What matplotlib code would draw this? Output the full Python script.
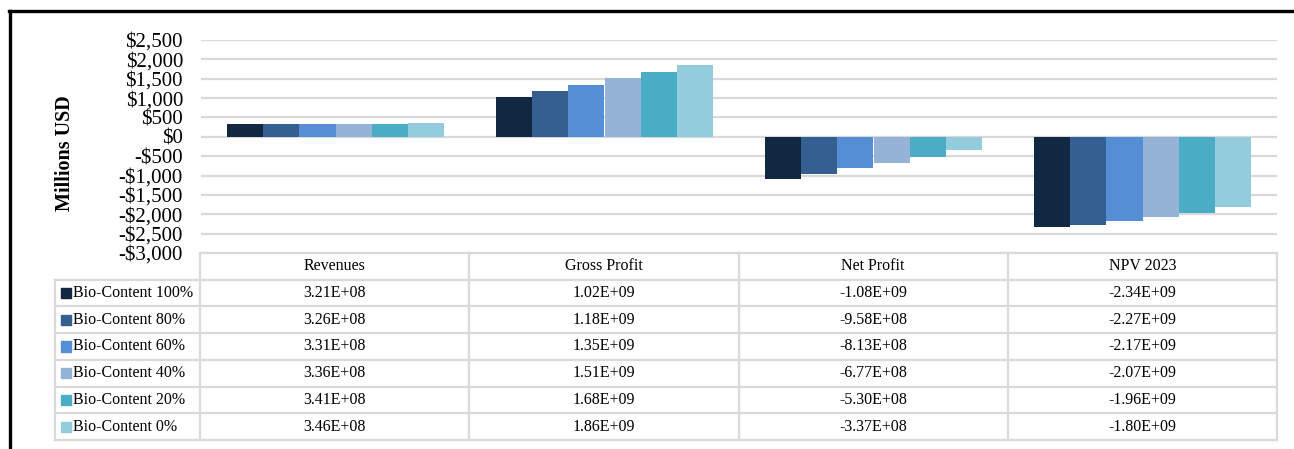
import matplotlib.pyplot as plt
from matplotlib.lines import Line2D
from matplotlib.patches import Rectangle

plt.rcParams['font.family'] = ['Liberation Serif', 'DejaVu Serif']

categories = ["Revenues", "Gross Profit", "Net Profit", "NPV 2023"]
series = ["Bio-Content 100%", "Bio-Content 80%", "Bio-Content 60%",
          "Bio-Content 40%", "Bio-Content 20%", "Bio-Content 0%"]

# values in USD, one list per series (Revenues, Gross Profit, Net Profit, NPV 2023)
values = [
    [3.21e8, 1.02e9, -1.08e9, -2.34e9],
    [3.26e8, 1.18e9, -9.58e8, -2.27e9],
    [3.31e8, 1.35e9, -8.13e8, -2.17e9],
    [3.36e8, 1.51e9, -6.77e8, -2.07e9],
    [3.41e8, 1.68e9, -5.30e8, -1.96e9],
    [3.46e8, 1.86e9, -3.37e8, -1.80e9],
]
colors = ["#122842", "#355f91", "#558ed5", "#95b3d7", "#4bacc6", "#93cddd"]

W, H = 1294, 449
fig = plt.figure(figsize=(W / 100, H / 100), dpi=100)


def px_axes(x0, y0, x1, y1):
    # axes from pixel box (top-left origin)
    return fig.add_axes([x0 / W, 1 - y1 / H, (x1 - x0) / W, (y1 - y0) / H])


grid_col = "#d9d9d9"

# --- bar chart ---
ax = px_axes(201, 40, 1277, 253)
bar_w = 0.134
for i, (name, vals) in enumerate(zip(series, values)):
    xs = [c + 0.5 + (i - 2.5) * bar_w for c in range(len(categories))]
    ax.bar(xs, [v / 1e6 for v in vals], width=bar_w, color=colors[i], zorder=3)

ax.set_xlim(0, len(categories))
ax.set_ylim(-3000, 2500)
ticks = range(-3000, 2501, 500)
ax.set_yticks(ticks)
ax.set_yticklabels([("-$" if t < 0 else "$") + f"{abs(t):,}" for t in ticks], fontsize=15)
ax.tick_params(axis='y', length=0, pad=13)
ax.set_xticks([])
for t in range(-2500, 2501, 500):
    ax.axhline(t, color=grid_col, lw=1.6, zorder=1)
for s in ax.spines.values():
    s.set_visible(False)
ax.set_ylabel("Millions USD", fontsize=14.5, fontweight='bold')
ax.yaxis.set_label_coords(-0.117, 0.47)

# --- data table below ---
lab_w = 145 / 269
tx = px_axes(55, 253, 1277, 440)
tx.set_xlim(-lab_w, len(categories))
tx.set_ylim(len(series) + 1, 0)
tx.axis('off')

lw = 1.6
n = len(series)
# horizontal lines
tx.plot([0, len(categories)], [0, 0], color=grid_col, lw=lw, clip_on=False)
for r in range(1, n + 2):
    tx.plot([-lab_w, len(categories)], [r, r], color=grid_col, lw=lw, clip_on=False)
# vertical lines
tx.plot([-lab_w, -lab_w], [1, n + 1], color=grid_col, lw=lw, clip_on=False)
for c in range(len(categories) + 1):
    tx.plot([c, c], [0, n + 1], color=grid_col, lw=lw, clip_on=False)

for c, cat in enumerate(categories):
    tx.text(c + 0.5, 0.5, cat, ha='center', va='center', fontsize=11.5)

sw = 10 / 269
for r, (name, vals) in enumerate(zip(series, values)):
    y = r + 1.5
    tx.add_patch(Rectangle((-lab_w + 6 / 269, y - 0.19), sw, 0.38,
                           color=colors[r], clip_on=False))
    tx.text(-lab_w + 18 / 269, y, name, ha='left', va='center', fontsize=11.5)
    for c, v in enumerate(vals):
        tx.text(c + 0.5, y, f"{v:.2E}", ha='center', va='center', fontsize=11.5)

# outer frame lines (top and left)
fig.add_artist(Line2D([9 / W, 1], [1 - 10.5 / H] * 2, color='black', lw=2.4))
fig.add_artist(Line2D([10 / W] * 2, [0, 1 - 10.5 / H], color='black', lw=2.4))

fig.savefig("out.png", dpi=100)
